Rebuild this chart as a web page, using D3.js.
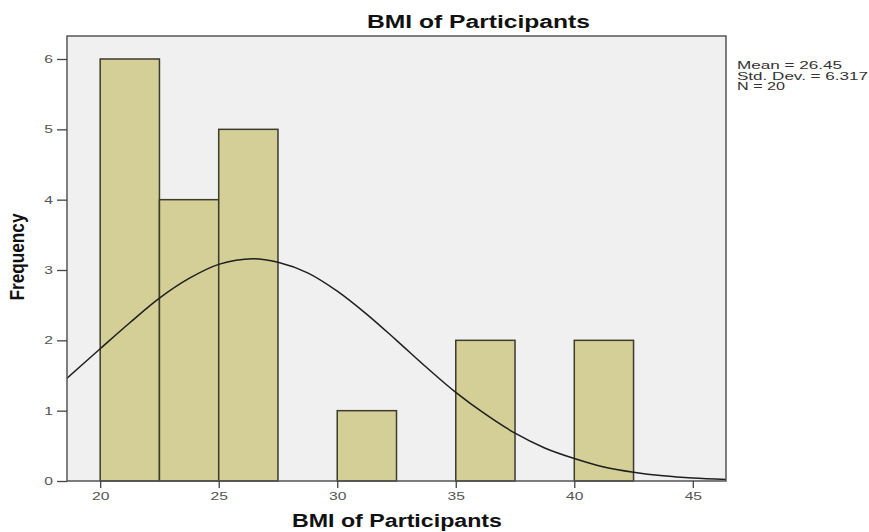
<!DOCTYPE html>
<html>
<head>
<meta charset="utf-8">
<script src="https://cdn.jsdelivr.net/npm/d3@7"></script>
<style>
  body { margin: 0; background: #fff; }
  text { font-family: "Liberation Sans", Arial, sans-serif; }
</style>
</head>
<body>
<div id="chart"></div>
<script>
// histogram bins (BMI, width 2.5) and counts
const binStarts = [20, 22.5, 25, 27.5, 30, 32.5, 35, 37.5, 40, 42.5];
const counts = [6, 4, 5, 0, 1, 0, 2, 0, 2, 0];
const binWidth = 2.5;

// normal curve
const curveX = [18.5, 20, 21.25, 22.5, 23.75, 25, 26.45, 27.5, 28.75, 30, 31.25, 32.5, 33.75, 35, 36.25, 37.5, 38.75, 40, 41.25, 42.5, 43.75, 45, 46.5];
const curveY = [1.43, 1.88, 2.25, 2.60, 2.88, 3.08, 3.16, 3.11, 2.96, 2.70, 2.37, 2.00, 1.62, 1.26, 0.95, 0.68, 0.47, 0.32, 0.20, 0.125, 0.074, 0.042, 0.02];

const xTicks = [20, 25, 30, 35, 40, 45];
const yTicks = [0, 1, 2, 3, 4, 5, 6];
const statLines = ["Mean = 26.45", "Std. Dev. = 6.317", "N = 20"];

const width = 869, height = 532;
const plot = { left: 67, right: 726, top: 36, bottom: 481 };

const svg = d3.select("#chart")
    .append("svg")
    .attr("width", width)
    .attr("height", height);

const x = d3.scaleLinear()
    .domain([18.6, 46.4])
    .range([plot.left, plot.right]);

const y = d3.scaleLinear()
    .domain([0, 6.327])
    .range([plot.bottom, plot.top]);

// plot background
svg.append("rect")
    .attr("x", plot.left)
    .attr("y", plot.top)
    .attr("width", plot.right - plot.left)
    .attr("height", plot.bottom - plot.top)
    .attr("fill", "#f0f0f0");

svg.append("clipPath")
    .attr("id", "clip")
    .append("rect")
    .attr("x", plot.left)
    .attr("y", plot.top)
    .attr("width", plot.right - plot.left)
    .attr("height", plot.bottom - plot.top);

// bars
svg.append("g")
    .selectAll("rect")
    .data(binStarts.map((b, i) => ({ x0: b, count: counts[i] })).filter(d => d.count > 0))
    .join("rect")
    .attr("x", d => x(d.x0))
    .attr("y", d => y(d.count))
    .attr("width", d => x(d.x0 + binWidth) - x(d.x0))
    .attr("height", d => y(0) - y(d.count))
    .attr("fill", "#d3cf96")
    .attr("stroke", "#3c3b2c")
    .attr("stroke-width", 1.5);

// normal curve
const line = d3.line()
    .x(d => x(d[0]))
    .y(d => y(d[1]))
    .curve(d3.curveCatmullRom);

svg.append("path")
    .datum(curveX.map((v, i) => [v, curveY[i]]))
    .attr("clip-path", "url(#clip)")
    .attr("d", line)
    .attr("fill", "none")
    .attr("stroke", "#1e1e1e")
    .attr("stroke-width", 1.5);

// frame
svg.append("rect")
    .attr("x", plot.left)
    .attr("y", plot.top)
    .attr("width", plot.right - plot.left)
    .attr("height", plot.bottom - plot.top)
    .attr("fill", "none")
    .attr("stroke", "#555")
    .attr("stroke-width", 1.5);

// axes
const xAxis = svg.append("g")
    .attr("transform", `translate(0,${plot.bottom})`)
    .call(d3.axisBottom(x).tickValues(xTicks).tickSize(7).tickPadding(4).tickFormat(d3.format("d")));

const yAxis = svg.append("g")
    .attr("transform", `translate(${plot.left},0)`)
    .call(d3.axisLeft(y).tickValues(yTicks).tickSize(10).tickPadding(4).tickFormat(d3.format("d")));

[xAxis, yAxis].forEach(ax => {
    ax.select(".domain").remove();
    ax.selectAll("line").attr("stroke", "#444").attr("stroke-width", 1.3);
    ax.selectAll("text")
        .attr("font-size", 11)
        .attr("fill", "#555")
        .attr("font-family", "Liberation Sans, Arial, sans-serif")
        .attr("lengthAdjust", "spacingAndGlyphs")
        .attr("textLength", function () { return this.textContent.length * 8.7; });
});

// title
svg.append("text")
    .attr("x", 367)
    .attr("y", 28)
    .attr("font-size", 18)
    .attr("font-weight", "bold")
    .attr("fill", "#111")
    .attr("lengthAdjust", "spacingAndGlyphs")
    .attr("textLength", 223)
    .text("BMI of Participants");

// x label
svg.append("text")
    .attr("x", 292)
    .attr("y", 527)
    .attr("font-size", 18)
    .attr("font-weight", "bold")
    .attr("fill", "#111")
    .attr("lengthAdjust", "spacingAndGlyphs")
    .attr("textLength", 210)
    .text("BMI of Participants");

// y label
svg.append("text")
    .attr("transform", "translate(24,257) rotate(-90) scale(1,1.3)")
    .attr("text-anchor", "middle")
    .attr("font-size", 15)
    .attr("font-weight", "bold")
    .attr("fill", "#111")
    .attr("lengthAdjust", "spacingAndGlyphs")
    .attr("textLength", 87)
    .text("Frequency");

// stats
const statWidths = [105, 131, 48];
svg.append("g")
    .selectAll("text")
    .data(statLines)
    .join("text")
    .attr("x", 737)
    .attr("y", (d, i) => 69 + i * 10.5)
    .attr("font-size", 11)
    .attr("fill", "#333")
    .attr("lengthAdjust", "spacingAndGlyphs")
    .attr("textLength", (d, i) => statWidths[i])
    .text(d => d);
</script>
</body>
</html>
